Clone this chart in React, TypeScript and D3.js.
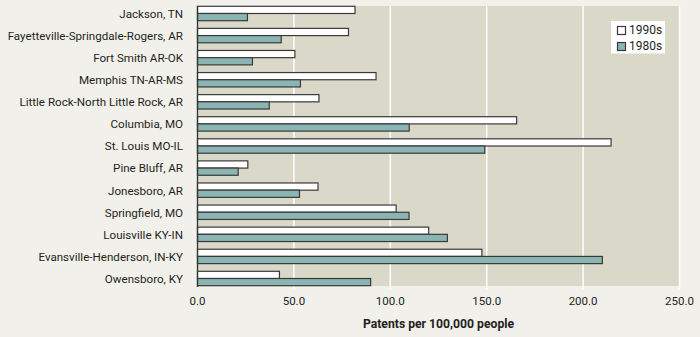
import React from "react";
import * as d3 from "d3";

const categories = [
  "Jackson, TN",
  "Fayetteville-Springdale-Rogers, AR",
  "Fort Smith AR-OK",
  "Memphis TN-AR-MS",
  "Little Rock-North Little Rock, AR",
  "Columbia, MO",
  "St. Louis MO-IL",
  "Pine Bluff, AR",
  "Jonesboro, AR",
  "Springfield, MO",
  "Louisville KY-IN",
  "Evansville-Henderson, IN-KY",
  "Owensboro, KY",
];
const values1990s = [81.7, 78.3, 50.5, 92.6, 63.0, 165.5, 214.5, 26.1, 62.5, 103.0, 119.9, 147.5, 42.5];
const values1980s = [25.9, 43.4, 28.5, 53.4, 37.2, 109.8, 149.0, 21.1, 52.9, 109.7, 129.6, 210.0, 89.8];
const xTicks = [0, 50, 100, 150, 200, 250];
const seriesNames = ["1990s", "1980s"];
const seriesColors = ["#ffffff", "#8ab5b3"];
const axisTitle = "Patents per 100,000 people";

const W = 700, H = 337;
const margin = { left: 197.5, right: 20.5, top: 6, bottom: 51 };
const FONT = "Roboto, 'Noto Sans', sans-serif";

export default function App() {
  const x = d3.scaleLinear().domain([0, 250]).range([margin.left, W - margin.right]);
  const y = d3
    .scaleBand()
    .domain(categories)
    .range([margin.top, H - margin.bottom])
    .paddingInner(0.3208)
    .paddingOuter(0);
  const bw = y.bandwidth();
  const sub = d3.scaleBand().domain(seriesNames).range([0.3, bw - 0.3]);
  const series = [values1990s, values1980s];
  return (
    <svg width={W} height={H} style={{ position: "absolute", left: 0, top: 0, background: "#f2f0eb" }}>
      <rect x={0} y={0} width={W} height={H} fill="#f2f0eb" />
      <rect x={x(0)} y={margin.top} width={x(250) - x(0)} height={H - margin.bottom - margin.top} fill="#dad8c9" />
      {xTicks.slice(1).map((t) => (
        <line key={t} x1={x(t)} x2={x(t)} y1={margin.top} y2={H - margin.bottom + 3} stroke="#ffffff" strokeWidth={1.5} />
      ))}
      {categories.map((c, i) => (
        <g key={c}>
          {series.map((vals, s) => (
            <rect
              key={s}
              x={x(0)}
              y={(y(c) as number) + (sub(seriesNames[s]) as number)}
              width={x(vals[i]) - x(0)}
              height={sub.bandwidth()}
              fill={seriesColors[s]}
              stroke="#3a3a3a"
              strokeWidth={1.2}
            />
          ))}
          <text
            x={183}
            y={(y(c) as number) + bw / 2 + 1.3}
            textAnchor="end"
            dominantBaseline="middle"
            fontFamily={FONT}
            fontSize={11.6}
            fill="#231f20"
          >
            {c}
          </text>
        </g>
      ))}
      <line x1={x(0)} x2={x(0)} y1={margin.top} y2={H - margin.bottom + 1} stroke="#333" strokeWidth={1.3} />
      {xTicks.map((t) => (
        <text key={t} x={x(t)} y={302} textAnchor="middle" dominantBaseline="middle" fontFamily={FONT} fontSize={11.5} fill="#231f20">
          {d3.format(".1f")(t)}
        </text>
      ))}
      <text x={x(125)} y={324.5} textAnchor="middle" dominantBaseline="middle" fontFamily={FONT} fontSize={12.2} fontWeight="bold" fill="#231f20">
        {axisTitle}
      </text>
      <g>
        <rect x={611} y={21} width={54} height={32.5} fill="#ffffff" />
        {seriesNames.map((n, s) => (
          <g key={n}>
            <rect x={617.5} y={26.5 + s * 16} width={8} height={8} fill={seriesColors[s]} stroke="#3a3a3a" strokeWidth={1.2} />
            <text x={629} y={30.5 + s * 16} dominantBaseline="middle" fontFamily={FONT} fontSize={12} fill="#231f20">
              {n}
            </text>
          </g>
        ))}
      </g>
    </svg>
  );
}
